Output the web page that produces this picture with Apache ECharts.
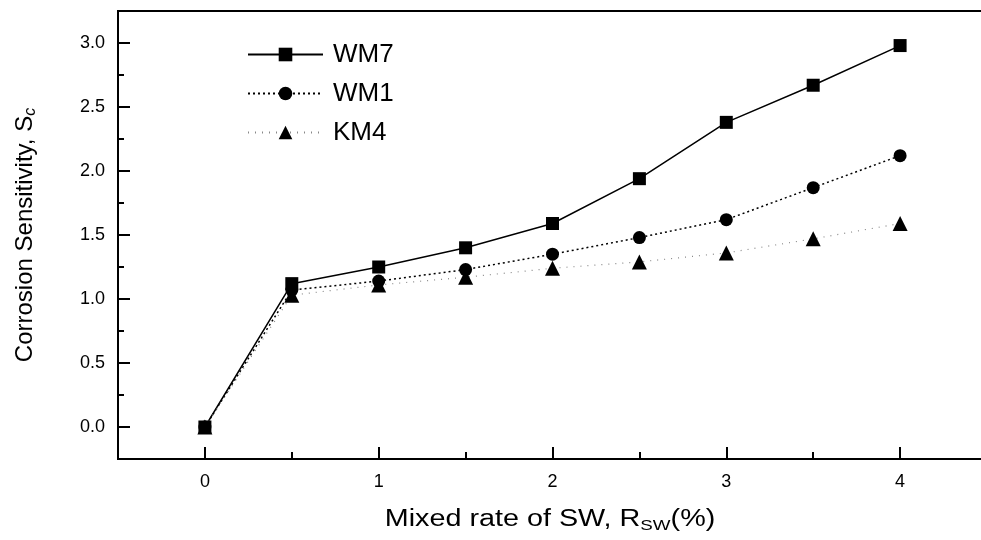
<!DOCTYPE html>
<html>
<head>
<meta charset="utf-8">
<script src="https://cdn.jsdelivr.net/npm/echarts@6/dist/echarts.min.js"></script>
<style>
html,body{margin:0;padding:0;background:#fff;overflow:hidden;}
#chart{width:992px;height:540px;}
</style>
</head>
<body>
<div id="chart"></div>
<script>
// ---- data ----
var rates = [0, 0.5, 1, 1.5, 2, 2.5, 3, 3.5, 4];
var wm7 = [0, 1.12, 1.25, 1.40, 1.59, 1.94, 2.38, 2.67, 2.98];
var wm1 = [0, 1.07, 1.14, 1.23, 1.35, 1.48, 1.62, 1.87, 2.12];
var km4 = [0, 1.03, 1.11, 1.17, 1.24, 1.29, 1.36, 1.47, 1.59];
var seriesNames = ['WM7', 'WM1', 'KM4'];
var xMajorTicks = [0, 1, 2, 3, 4];
var xMinorTicks = [0.5, 1.5, 2.5, 3.5];
var yMajorTicks = [0, 0.5, 1, 1.5, 2, 2.5, 3];
var yMinorTicks = [0.25, 0.75, 1.25, 1.75, 2.25, 2.75, 3.25];

function pairs(arr) { return rates.map(function (r, i) { return [r, arr[i]]; }); }

var FONT = 'Liberation Sans';
var chart = echarts.init(document.getElementById('chart'), null, {renderer: 'canvas'});

var option = {
  backgroundColor: '#fff',
  animation: false,
  grid: {show: true, borderColor: '#000', borderWidth: 2, backgroundColor: 'transparent',
         left: 118, top: 11, right: 5, bottom: 81},
  legend: {
    orient: 'vertical',
    left: 247, top: 41, padding: 0,
    itemWidth: 75, itemHeight: 17, itemGap: 12,
    data: seriesNames,
    textStyle: {fontFamily: FONT, fontSize: 26, lineHeight: 27, color: '#000', padding: [0, 0, 0, 5]}
  },
  graphic: [{
    type: 'text', x: 550, y: 520, scaleX: 1.25,
    style: {
      text: 'Mixed rate of SW, R{sub|SW}(%)',
      font: '23px "Liberation Sans"', fill: '#000',
      textAlign: 'center', textVerticalAlign: 'middle',
      rich: {sub: {fontFamily: FONT, fontSize: 15, fill: '#000', padding: [12, 0, 0, 0]}}
    }
  }],
  xAxis: [{
    type: 'value', min: -0.5, max: 4.5, position: 'bottom',
    axisLine: {show: true, onZero: false, lineStyle: {color: '#000', width: 2}},
    axisTick: {show: true, inside: true, length: 12, customValues: xMajorTicks, lineStyle: {color: '#000', width: 2}},
    axisLabel: {customValues: xMajorTicks, margin: 14, fontFamily: FONT, fontSize: 18, color: '#000'},
    splitLine: {show: false}
  }, {
    type: 'value', min: -0.5, max: 4.5, position: 'bottom',
    axisLine: {show: false, onZero: false},
    axisTick: {show: true, inside: true, length: 7, customValues: xMinorTicks, lineStyle: {color: '#000', width: 2}},
    axisLabel: {show: false},
    splitLine: {show: false}
  }],
  yAxis: [{
    type: 'value', min: -0.25, max: 3.25, position: 'left',
    axisLine: {show: true, onZero: false, lineStyle: {color: '#000', width: 2}},
    axisTick: {show: true, inside: true, length: 12, customValues: yMajorTicks, lineStyle: {color: '#000', width: 2}},
    axisLabel: {customValues: yMajorTicks, margin: 13, fontFamily: FONT, fontSize: 18, color: '#000',
      formatter: function (v) { return v.toFixed(1); }},
    splitLine: {show: false},
    name: 'Corrosion Sensitivity, S{sub|c}',
    nameLocation: 'middle', nameGap: 79, nameRotate: 90,
    nameTextStyle: {fontFamily: FONT, fontSize: 24, color: '#000',
      rich: {sub: {fontFamily: FONT, fontSize: 16, fontStyle: 'italic', color: '#000', padding: [12, 0, 0, 0]}}}
  }, {
    type: 'value', min: -0.25, max: 3.25, position: 'left',
    axisLine: {show: false, onZero: false},
    axisTick: {show: true, inside: true, length: 6, customValues: yMinorTicks, lineStyle: {color: '#000', width: 2}},
    axisLabel: {show: false},
    splitLine: {show: false}
  }],
  series: [{
    name: seriesNames[0], type: 'line', data: pairs(wm7),
    symbol: 'rect', symbolSize: 13,
    itemStyle: {color: '#000'},
    lineStyle: {color: '#000', width: 1.5, type: 'solid'}
  }, {
    name: seriesNames[1], type: 'line', data: pairs(wm1),
    symbol: 'circle', symbolSize: 13,
    itemStyle: {color: '#000'},
    lineStyle: {color: '#000', width: 1.5, type: [2, 3]}
  }, {
    name: seriesNames[2], type: 'line', data: pairs(km4),
    symbol: 'triangle', symbolSize: 15,
    itemStyle: {color: '#000'},
    lineStyle: {color: '#888', width: 1.2, type: [1, 6]}
  }]
};
chart.setOption(option);
</script>
</body>
</html>
